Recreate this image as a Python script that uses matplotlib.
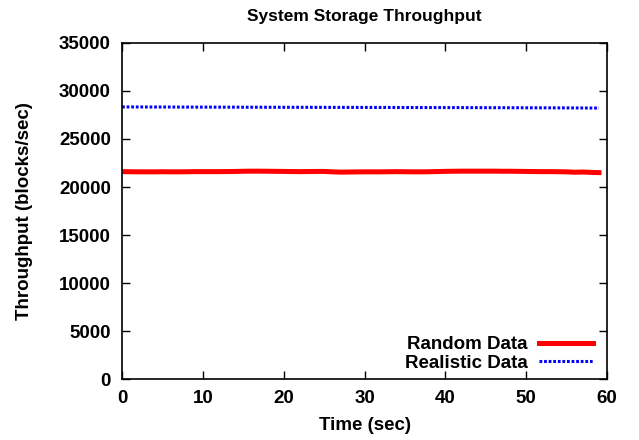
import matplotlib
matplotlib.use('Agg')
import matplotlib.pyplot as plt

# data
time_sec = list(range(60))
random_data = [21600, 21590, 21580, 21580, 21580, 21590, 21580, 21580, 21590, 21600,
               21600, 21600, 21600, 21610, 21620, 21640, 21650, 21650, 21640, 21630,
               21620, 21610, 21600, 21610, 21620, 21620, 21580, 21550, 21560, 21570,
               21580, 21580, 21580, 21590, 21600, 21590, 21580, 21580, 21590, 21610,
               21630, 21640, 21650, 21650, 21650, 21650, 21650, 21640, 21640, 21630,
               21620, 21610, 21600, 21600, 21590, 21580, 21540, 21560, 21520, 21500]
realistic_data = [28340, 28340, 28335, 28335, 28330, 28330, 28330, 28325, 28325, 28320,
                  28320, 28320, 28315, 28315, 28315, 28310, 28310, 28310, 28305, 28305,
                  28300, 28300, 28300, 28300, 28295, 28295, 28295, 28290, 28290, 28290,
                  28290, 28285, 28285, 28285, 28280, 28280, 28280, 28275, 28275, 28275,
                  28270, 28270, 28270, 28265, 28265, 28260, 28260, 28260, 28255, 28255,
                  28250, 28250, 28245, 28245, 28240, 28240, 28235, 28230, 28225, 28220]

x_ticks = [0, 10, 20, 30, 40, 50, 60]
y_ticks = [0, 5000, 10000, 15000, 20000, 25000, 30000, 35000]

plt.rcParams['font.family'] = ['Liberation Sans', 'DejaVu Sans']
plt.rcParams['font.size'] = 13.5
plt.rcParams['font.weight'] = 'bold'

fig = plt.figure(figsize=(6.39, 4.40), dpi=100)
ax = fig.add_axes([0.191, 0.1386, 0.759, 0.7637])

ax.plot(time_sec, random_data, color='#ff0000', lw=3.6, label='Random Data')
ax.plot(time_sec, realistic_data, color='#0000ff', lw=2.2,
        linestyle=(0, (0.9, 0.6)), label='Realistic Data')

ax.set_xlim(0, 60)
ax.set_ylim(0, 35000)
ax.set_xticks(x_ticks)
ax.set_yticks(y_ticks)
ax.tick_params(direction='in', length=6, width=1, top=True, right=True, pad=8)
for s in ax.spines.values():
    s.set_linewidth(1.2)

ax.set_title('System Storage Throughput', fontsize=12.5, fontweight='bold', pad=16)
ax.set_xlabel('Time (sec)', fontweight='bold', labelpad=7)
ax.set_ylabel('Throughput (blocks/sec)', fontweight='bold', labelpad=19)

ax.legend(loc='lower right', bbox_to_anchor=(0.987, 0.0), frameon=False,
          markerfirst=False, handlelength=2.9, labelspacing=0.05,
          borderaxespad=0.0, handletextpad=0.6,
          prop={'weight': 'bold', 'size': 13.5})

fig.savefig('out.png', dpi=100)
